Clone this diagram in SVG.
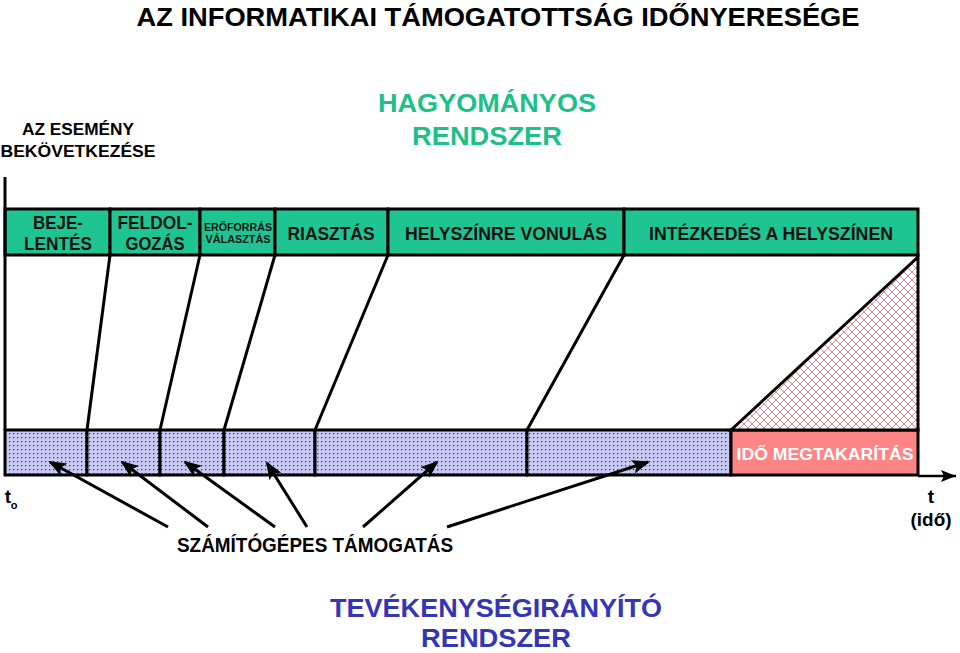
<svg xmlns="http://www.w3.org/2000/svg" width="960" height="653" viewBox="0 0 960 653">
<defs>
<style>
text{font-family:"Liberation Sans",Arial,sans-serif;font-weight:bold;text-anchor:middle}
.box{stroke:#000;stroke-width:3}
.g{fill:#1ec592}
.lbl{font-size:19px;fill:#111}
.ln{stroke:#000;stroke-width:3;fill:none}
.arr{stroke:#000;stroke-width:3;fill:none;marker-end:url(#ah)}
</style>
<pattern id="dots" width="4" height="4" patternUnits="userSpaceOnUse">
<rect width="4" height="4" fill="#c9c9f5"/>
<rect x="1" y="1" width="1.3" height="1.3" fill="#3a3a70"/>
</pattern>
<pattern id="hatch" width="8" height="8" patternUnits="userSpaceOnUse">
<rect width="8" height="8" fill="#fff"/>
<path d="M0 0L8 8M8 0L0 8" stroke="#e58a95" stroke-width="1"/>
</pattern>
<marker id="ah" markerUnits="userSpaceOnUse" markerWidth="18" markerHeight="14" refX="16" refY="7" orient="auto">
<path d="M0 0L18 7L0 14L4 7Z" fill="#000"/>
</marker>
<marker id="ah2" markerUnits="userSpaceOnUse" markerWidth="16" markerHeight="14" refX="15" refY="7" orient="auto">
<path d="M0 1L15 7L0 13L3 7Z" fill="#000"/>
</marker>
</defs>
<rect width="960" height="653" fill="#fff"/>

<g id="title">
<text x="498" y="26" font-size="25" textLength="723" lengthAdjust="spacingAndGlyphs">AZ INFORMATIKAI TÁMOGATOTTSÁG IDŐNYERESÉGE</text>
</g>
<g id="hagyomanyos">
<text x="487" y="112" font-size="25" fill="#1ec08a" textLength="218" lengthAdjust="spacingAndGlyphs">HAGYOMÁNYOS</text>
<text x="487" y="145" font-size="25" fill="#1ec08a" textLength="150" lengthAdjust="spacingAndGlyphs">RENDSZER</text>
</g>
<g id="esemeny">
<text x="78" y="135" font-size="16" textLength="112" lengthAdjust="spacingAndGlyphs">AZ ESEMÉNY</text>
<text x="78" y="157" font-size="16" textLength="155" lengthAdjust="spacingAndGlyphs">BEKÖVETKEZÉSE</text>
</g>

<g id="top-bar">
<rect class="box g" x="5" y="209" width="105" height="46"/>
<rect class="box g" x="110" y="209" width="90" height="46"/>
<rect class="box g" x="200" y="209" width="75" height="46"/>
<rect class="box g" x="275" y="209" width="113" height="46"/>
<rect class="box g" x="388" y="209" width="236" height="46"/>
<rect class="box g" x="624" y="209" width="294" height="46"/>
<text class="lbl" x="58" y="229" textLength="50" lengthAdjust="spacingAndGlyphs">BEJE-</text>
<text class="lbl" x="58" y="250" textLength="68" lengthAdjust="spacingAndGlyphs">LENTÉS</text>
<text class="lbl" x="155" y="229" textLength="75" lengthAdjust="spacingAndGlyphs">FELDOL-</text>
<text class="lbl" x="155" y="250" textLength="59" lengthAdjust="spacingAndGlyphs">GOZÁS</text>
<text x="238" y="231" font-size="11" fill="#111" textLength="68" lengthAdjust="spacingAndGlyphs">ERŐFORRÁS</text>
<text x="238" y="243" font-size="11" fill="#111" textLength="65" lengthAdjust="spacingAndGlyphs">VÁLASZTÁS</text>
<text class="lbl" x="331" y="240" textLength="87" lengthAdjust="spacingAndGlyphs">RIASZTÁS</text>
<text class="lbl" x="506" y="240" textLength="202" lengthAdjust="spacingAndGlyphs">HELYSZÍNRE VONULÁS</text>
<text class="lbl" x="771" y="240" textLength="244" lengthAdjust="spacingAndGlyphs">INTÉZKEDÉS A HELYSZÍNEN</text>
</g>

<g id="bottom-bar">
<rect class="box" fill="url(#dots)" x="5" y="430" width="82" height="45"/>
<rect class="box" fill="url(#dots)" x="87" y="430" width="73" height="45"/>
<rect class="box" fill="url(#dots)" x="160" y="430" width="64" height="45"/>
<rect class="box" fill="url(#dots)" x="224" y="430" width="91" height="45"/>
<rect class="box" fill="url(#dots)" x="315" y="430" width="212" height="45"/>
<rect class="box" fill="url(#dots)" x="527" y="430" width="204" height="45"/>
<rect class="box" fill="#fd8585" x="731" y="430" width="187" height="45"/>
<text x="825" y="460" font-size="17" fill="#fff" textLength="177" lengthAdjust="spacingAndGlyphs">IDŐ MEGTAKARÍTÁS</text>
</g>

<g id="savings">
<path d="M731 430L918 257L918 430Z" fill="url(#hatch)" stroke="#000" stroke-width="3"/>
</g>

<g id="connectors">
<line class="ln" x1="5" y1="177" x2="5" y2="430"/>
<line class="ln" x1="110" y1="255" x2="87" y2="430"/>
<line class="ln" x1="200" y1="255" x2="160" y2="430"/>
<line class="ln" x1="275" y1="255" x2="224" y2="430"/>
<line class="ln" x1="388" y1="255" x2="315" y2="430"/>
<line class="ln" x1="624" y1="255" x2="527" y2="430"/>
<line x1="918" y1="476" x2="956" y2="476" stroke="#000" stroke-width="2.5" marker-end="url(#ah2)"/>
<line class="arr" x1="168" y1="527" x2="50" y2="462"/>
<line class="arr" x1="208" y1="527" x2="122" y2="462"/>
<line class="arr" x1="275" y1="527" x2="185" y2="462"/>
<line class="arr" x1="307" y1="527" x2="267" y2="463"/>
<line class="arr" x1="363" y1="527" x2="437" y2="462"/>
<line class="arr" x1="447" y1="527" x2="648" y2="462"/>
</g>

<g id="axis-labels">
<text x="8" y="503" font-size="19">t</text>
<text x="14" y="509" font-size="11">o</text>
<text x="931" y="503" font-size="19">t</text>
<text x="931" y="526" font-size="18" textLength="41" lengthAdjust="spacingAndGlyphs">(idő)</text>
</g>

<g id="szamitogepes">
<text x="315" y="552" font-size="20" textLength="276" lengthAdjust="spacingAndGlyphs">SZÁMÍTÓGÉPES TÁMOGATÁS</text>
</g>

<g id="tevekenyseg">
<text x="496" y="617" font-size="25" fill="#3535b8" textLength="332" lengthAdjust="spacingAndGlyphs">TEVÉKENYSÉGIRÁNYÍTÓ</text>
<text x="496" y="647" font-size="25" fill="#3535b8" textLength="150" lengthAdjust="spacingAndGlyphs">RENDSZER</text>
</g>
</svg>
